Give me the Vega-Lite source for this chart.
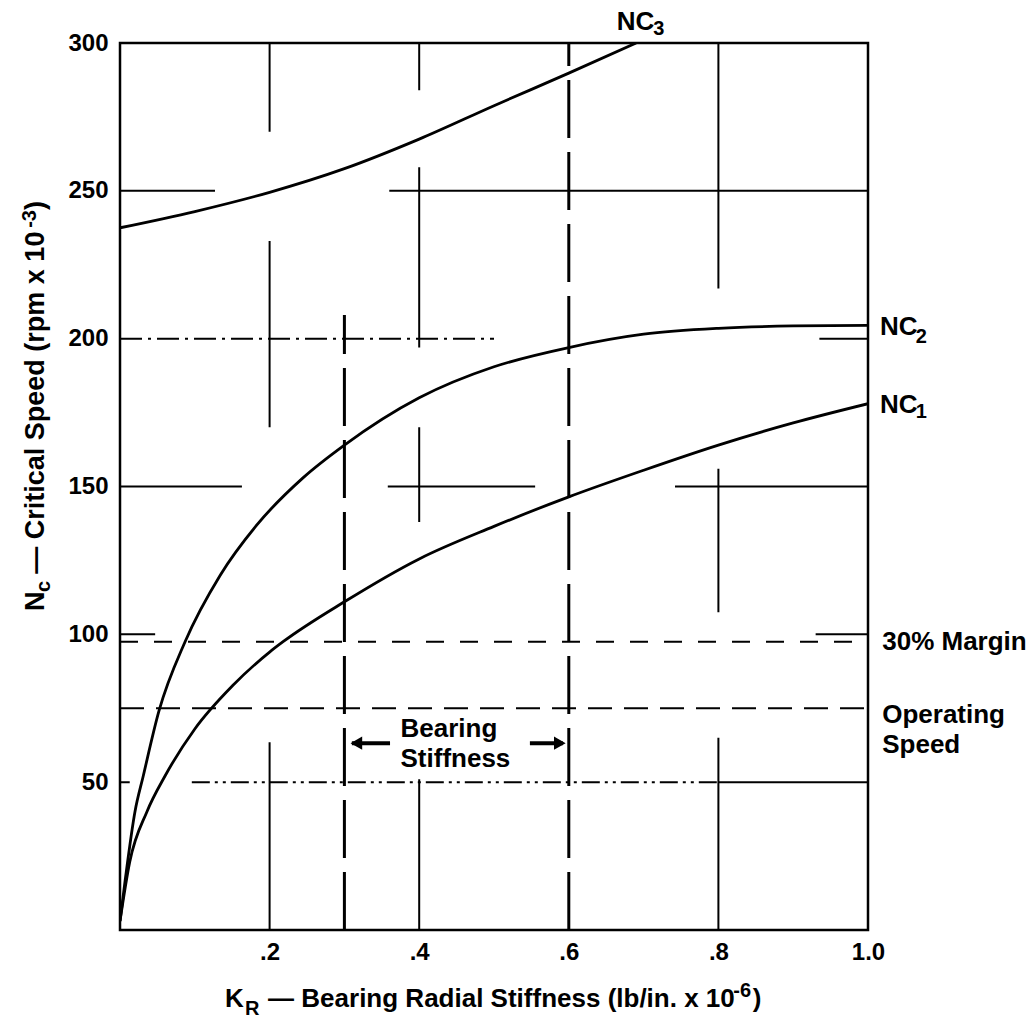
{
  "$schema": "https://vega.github.io/schema/vega-lite/v6.json",
  "width": 748,
  "height": 887,
  "autosize": {"type": "none"},
  "padding": {"left": 120, "top": 43, "right": 165, "bottom": 90},
  "background": "white",
  "config": {
    "view": {"stroke": "black", "strokeWidth": 2.5},
    "font": "Liberation Sans",
    "axis": {
      "grid": false, "ticks": false, "domain": false,
      "labelFont": "Liberation Sans", "labelFontWeight": "bold", "labelFontSize": 24,
      "labelColor": "black", "labelFlush": false, "labelOverlap": false
    },
    "axisX": {"labelPadding": 10},
    "axisY": {"labelPadding": 12},
    "text": {"font": "Liberation Sans", "fontWeight": "bold", "color": "black"}
  },
  "datasets": {
    "curves": [
      {"curve": "NC1", "k": 0, "n": 3},
      {"curve": "NC1", "k": 0.013, "n": 23},
      {"curve": "NC1", "k": 0.036, "n": 40},
      {"curve": "NC1", "k": 0.06, "n": 52},
      {"curve": "NC1", "k": 0.1, "n": 68},
      {"curve": "NC1", "k": 0.15, "n": 82.5},
      {"curve": "NC1", "k": 0.2, "n": 94},
      {"curve": "NC1", "k": 0.218, "n": 97.5},
      {"curve": "NC1", "k": 0.3, "n": 111},
      {"curve": "NC1", "k": 0.4, "n": 125.5},
      {"curve": "NC1", "k": 0.5, "n": 136.5},
      {"curve": "NC1", "k": 0.6, "n": 146.5},
      {"curve": "NC1", "k": 0.7, "n": 155.5},
      {"curve": "NC1", "k": 0.8, "n": 164},
      {"curve": "NC1", "k": 0.9, "n": 171.5},
      {"curve": "NC1", "k": 1.0, "n": 178},
      {"curve": "NC2", "k": 0, "n": 3},
      {"curve": "NC2", "k": 0.007, "n": 17},
      {"curve": "NC2", "k": 0.02, "n": 40},
      {"curve": "NC2", "k": 0.031, "n": 52},
      {"curve": "NC2", "k": 0.052, "n": 74},
      {"curve": "NC2", "k": 0.087, "n": 97.5},
      {"curve": "NC2", "k": 0.134, "n": 120},
      {"curve": "NC2", "k": 0.183, "n": 137},
      {"curve": "NC2", "k": 0.245, "n": 153},
      {"curve": "NC2", "k": 0.3, "n": 164},
      {"curve": "NC2", "k": 0.4, "n": 180},
      {"curve": "NC2", "k": 0.5, "n": 190.5},
      {"curve": "NC2", "k": 0.6, "n": 197},
      {"curve": "NC2", "k": 0.7, "n": 201.5},
      {"curve": "NC2", "k": 0.8, "n": 203.5},
      {"curve": "NC2", "k": 0.9, "n": 204.3},
      {"curve": "NC2", "k": 1.0, "n": 204.5},
      {"curve": "NC3", "k": 0, "n": 237.5},
      {"curve": "NC3", "k": 0.1, "n": 243},
      {"curve": "NC3", "k": 0.2, "n": 249.5},
      {"curve": "NC3", "k": 0.3, "n": 257.5},
      {"curve": "NC3", "k": 0.4, "n": 267.5},
      {"curve": "NC3", "k": 0.5, "n": 278.8},
      {"curve": "NC3", "k": 0.6, "n": 289.8},
      {"curve": "NC3", "k": 0.69, "n": 300}
    ],
    "grid": [
      {"x1": 0.2, "x2": 0.2, "y1": 270, "y2": 300, "style": "solid"},
      {"x1": 0.2, "x2": 0.2, "y1": 170, "y2": 233, "style": "solid"},
      {"x1": 0.2, "x2": 0.2, "y1": 0, "y2": 63.5, "style": "solid"},
      {"x1": 0.4, "x2": 0.4, "y1": 284, "y2": 300, "style": "solid"},
      {"x1": 0.4, "x2": 0.4, "y1": 197, "y2": 258, "style": "solid"},
      {"x1": 0.4, "x2": 0.4, "y1": 138, "y2": 170, "style": "solid"},
      {"x1": 0.4, "x2": 0.4, "y1": 0, "y2": 51, "style": "solid"},
      {"x1": 0.8, "x2": 0.8, "y1": 217, "y2": 300, "style": "solid"},
      {"x1": 0.8, "x2": 0.8, "y1": 107.5, "y2": 156, "style": "solid"},
      {"x1": 0.8, "x2": 0.8, "y1": 0, "y2": 65, "style": "solid"},
      {"x1": 0, "x2": 0.127, "y1": 250, "y2": 250, "style": "solid"},
      {"x1": 0.36, "x2": 1, "y1": 250, "y2": 250, "style": "solid"},
      {"x1": 0, "x2": 0.163, "y1": 150, "y2": 150, "style": "solid"},
      {"x1": 0.358, "x2": 0.555, "y1": 150, "y2": 150, "style": "solid"},
      {"x1": 0.742, "x2": 1, "y1": 150, "y2": 150, "style": "solid"},
      {"x1": 0, "x2": 0.047, "y1": 100, "y2": 100, "style": "solid"},
      {"x1": 0.93, "x2": 1, "y1": 100, "y2": 100, "style": "solid"},
      {"x1": 0.935, "x2": 1, "y1": 200, "y2": 200, "style": "solid"},
      {"x1": 0, "x2": 0.013, "y1": 50, "y2": 50, "style": "solid"},
      {"x1": 0.8, "x2": 1, "y1": 50, "y2": 50, "style": "solid"},
      {"x1": 0, "x2": 0.5, "y1": 200, "y2": 200, "style": "dashdot"},
      {"x1": 0.096, "x2": 0.8, "y1": 50, "y2": 50, "style": "dashdotdot"},
      {"x1": 0, "x2": 1, "y1": 97.5, "y2": 97.5, "style": "margin"},
      {"x1": 0, "x2": 1, "y1": 75, "y2": 75, "style": "operating"}
    ],
    "bearing": [
      {"x1": 0.3, "x2": 0.3, "y1": 0, "y2": 208},
      {"x1": 0.6, "x2": 0.6, "y1": 0, "y2": 300}
    ],
    "arrows": [
      {"x1": 0.31, "x2": 0.361, "y": 63.2},
      {"x1": 0.548, "x2": 0.592, "y": 63.2}
    ],
    "heads": [
      {"x": 0.316, "y": 63.2, "dir": "left"},
      {"x": 0.588, "y": 63.2, "dir": "right"}
    ],
    "texts": [
      {"role": "main", "label": "NC", "x": 0.664, "y": 304.4},
      {"role": "main", "label": "NC", "x": 1.016, "y": 201.2},
      {"role": "main", "label": "NC", "x": 1.016, "y": 174.8},
      {"role": "main", "label": "30% Margin", "x": 1.019, "y": 94.7},
      {"role": "main", "label": "K", "x": 0.1404, "y": -26.0},
      {"role": "main", "label": "— Bearing Radial Stiffness (lb/in. x 10", "x": 0.198, "y": -26.0},
      {"role": "main", "label": ")", "x": 0.846, "y": -26.0},
      {"role": "multi", "label": "Bearing\nStiffness", "x": 0.375, "y": 65.3},
      {"role": "multi", "label": "Operating\nSpeed", "x": 1.019, "y": 70.0},
      {"role": "sub", "label": "3", "x": 0.713, "y": 302.7},
      {"role": "sub", "label": "2", "x": 1.064, "y": 198.5},
      {"role": "sub", "label": "1", "x": 1.064, "y": 173.1},
      {"role": "sub", "label": "R", "x": 0.167, "y": -28.7},
      {"role": "sub", "label": "-6", "x": 0.82, "y": -22.7},
      {"role": "ymain", "label": "N", "x": -0.1016, "y": 107.9},
      {"role": "ymain", "label": "— Critical Speed (rpm x 10", "x": -0.1016, "y": 120.5},
      {"role": "ymain", "label": ")", "x": -0.1016, "y": 243.5},
      {"role": "ysmall", "label": "c", "x": -0.0936, "y": 114.3},
      {"role": "ysmall", "label": "-3", "x": -0.1123, "y": 237.5}
    ]
  },
  "layer": [
    {
      "data": {"name": "grid"},
      "mark": {"type": "rule", "strokeWidth": 2, "color": "black"},
      "encoding": {
        "x": {
          "field": "x1", "type": "quantitative",
          "scale": {"domain": [0, 1], "nice": false, "zero": false},
          "axis": {
            "values": [0.2, 0.4, 0.6, 0.8, 1.0],
            "labelExpr": "datum.value >= 1 ? '1.0' : substring(format(datum.value, '.1f'), 1)",
            "title": null
          }
        },
        "x2": {"field": "x2"},
        "y": {
          "field": "y1", "type": "quantitative",
          "scale": {"domain": [0, 300], "nice": false, "zero": true},
          "axis": {"values": [50, 100, 150, 200, 250, 300], "title": null}
        },
        "y2": {"field": "y2"},
        "strokeDash": {
          "field": "style", "type": "nominal", "legend": null,
          "scale": {
            "domain": ["solid", "dashdot", "dashdotdot", "margin", "operating"],
            "range": [[1, 0], [22, 6, 3, 6], [18, 5, 3, 5, 3, 5], [18, 16], [24, 12]]
          }
        }
      }
    },
    {
      "data": {"name": "bearing"},
      "mark": {"type": "rule", "strokeWidth": 3, "color": "black", "strokeDash": [58, 14]},
      "encoding": {
        "x": {"field": "x1", "type": "quantitative", "axis": {"title": null}},
        "x2": {"field": "x2"},
        "y": {"field": "y1", "type": "quantitative", "axis": {"title": null}},
        "y2": {"field": "y2"}
      }
    },
    {
      "data": {"name": "curves"},
      "mark": {"type": "line", "strokeWidth": 2.8, "color": "black", "interpolate": "monotone", "clip": true},
      "encoding": {
        "x": {"field": "k", "type": "quantitative", "axis": {"title": null}},
        "y": {"field": "n", "type": "quantitative", "axis": {"title": null}},
        "detail": {"field": "curve"}
      }
    },
    {
      "data": {"name": "arrows"},
      "mark": {"type": "rule", "strokeWidth": 4, "color": "black"},
      "encoding": {
        "x": {"field": "x1", "type": "quantitative", "axis": {"title": null}},
        "x2": {"field": "x2"},
        "y": {"field": "y", "type": "quantitative", "axis": {"title": null}}
      }
    },
    {
      "data": {"name": "heads"},
      "mark": {"type": "point", "filled": true, "color": "black", "opacity": 1, "size": 180},
      "encoding": {
        "x": {"field": "x", "type": "quantitative", "axis": {"title": null}},
        "y": {"field": "y", "type": "quantitative", "axis": {"title": null}},
        "shape": {
          "field": "dir", "type": "nominal", "legend": null,
          "scale": {"domain": ["left", "right"], "range": ["triangle-left", "triangle-right"]}
        }
      }
    },
    {
      "data": {"name": "texts"},
      "transform": [{"filter": "datum.role == 'main'"}],
      "mark": {"type": "text", "fontSize": 26, "align": "left", "baseline": "alphabetic"},
      "encoding": {
        "x": {"field": "x", "type": "quantitative", "axis": {"title": null}},
        "y": {"field": "y", "type": "quantitative", "axis": {"title": null}},
        "text": {"field": "label"}
      }
    },
    {
      "data": {"name": "texts"},
      "transform": [{"filter": "datum.role == 'multi'"}],
      "mark": {"type": "text", "fontSize": 26, "align": "left", "baseline": "alphabetic", "lineBreak": "\n", "lineHeight": 30},
      "encoding": {
        "x": {"field": "x", "type": "quantitative", "axis": {"title": null}},
        "y": {"field": "y", "type": "quantitative", "axis": {"title": null}},
        "text": {"field": "label"}
      }
    },
    {
      "data": {"name": "texts"},
      "transform": [{"filter": "datum.role == 'sub'"}],
      "mark": {"type": "text", "fontSize": 20, "align": "left", "baseline": "alphabetic"},
      "encoding": {
        "x": {"field": "x", "type": "quantitative", "axis": {"title": null}},
        "y": {"field": "y", "type": "quantitative", "axis": {"title": null}},
        "text": {"field": "label"}
      }
    },
    {
      "data": {"name": "texts"},
      "transform": [{"filter": "datum.role == 'ymain'"}],
      "mark": {"type": "text", "fontSize": 27, "align": "left", "baseline": "alphabetic", "angle": 270},
      "encoding": {
        "x": {"field": "x", "type": "quantitative", "axis": {"title": null}},
        "y": {"field": "y", "type": "quantitative", "axis": {"title": null}},
        "text": {"field": "label"}
      }
    },
    {
      "data": {"name": "texts"},
      "transform": [{"filter": "datum.role == 'ysmall'"}],
      "mark": {"type": "text", "fontSize": 20, "align": "left", "baseline": "alphabetic", "angle": 270},
      "encoding": {
        "x": {"field": "x", "type": "quantitative", "axis": {"title": null}},
        "y": {"field": "y", "type": "quantitative", "axis": {"title": null}},
        "text": {"field": "label"}
      }
    }
  ]
}
